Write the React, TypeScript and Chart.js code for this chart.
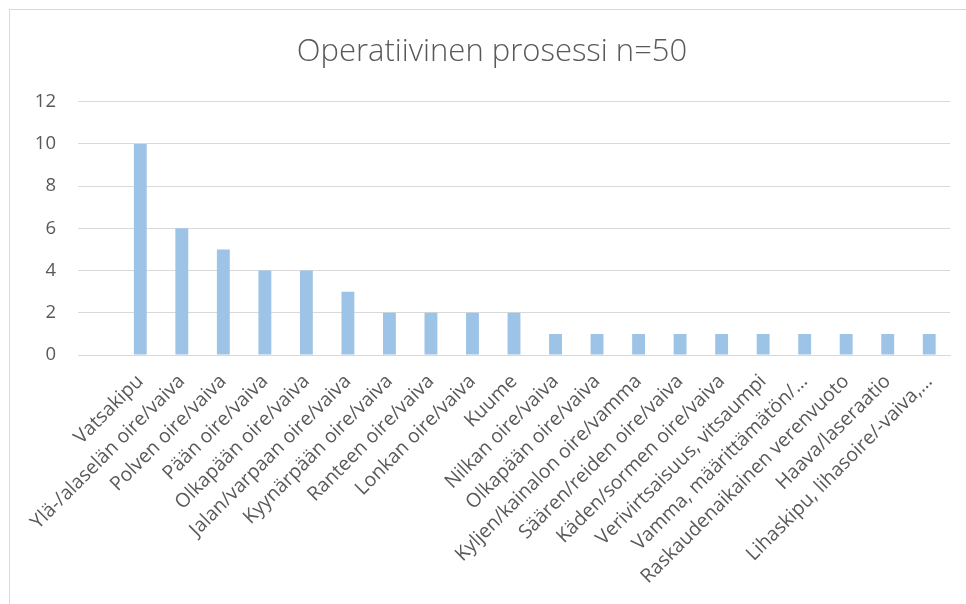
import React, { useEffect, useRef } from "react";
import { Chart, registerables } from "chart.js";

Chart.register(...registerables);

const TITLE = "Operatiivinen prosessi n=50";

const categories: string[] = [
  "",
  "Vatsakipu",
  "Ylä-/alaselän oire/vaiva",
  "Polven oire/vaiva",
  "Pään oire/vaiva",
  "Olkapään oire/vaiva",
  "Jalan/varpaan oire/vaiva",
  "Kyynärpään oire/vaiva",
  "Ranteen oire/vaiva",
  "Lonkan oire/vaiva",
  "Kuume",
  "Nilkan oire/vaiva",
  "Olkapään oire/vaiva",
  "Kyljen/kainalon oire/vamma",
  "Säären/reiden oire/vaiva",
  "Käden/sormen oire/vaiva",
  "Verivirtsaisuus, vitsaumpi",
  "Vamma, määrittämätön/…",
  "Raskaudenaikainen verenvuoto",
  "Haava/laseraatio",
  "Lihaskipu, lihasoire/-vaiva,…",
];

const counts: (number | null)[] = [
  null, 10, 6, 5, 4, 4, 3, 2, 2, 2, 2, 1, 1, 1, 1, 1, 1, 1, 1, 1, 1,
];

const yTicks: number[] = [0, 2, 4, 6, 8, 10, 12];

const FONT = "'Open Sans', 'DejaVu Sans', sans-serif";
const TEXT = "#595959";
const GRID = "#d9d9d9";

export default function App() {
  const ref = useRef<HTMLCanvasElement | null>(null);

  useEffect(() => {
    document.body.style.overflow = "hidden";
    const canvas = ref.current;
    if (!canvas) return;
    const chart = new Chart(canvas, {
      type: "bar",
      data: {
        labels: categories,
        datasets: [
          {
            data: counts,
            backgroundColor: "#9dc3e6",
            borderWidth: 0,
            barPercentage: 0.31,
            categoryPercentage: 1,
          },
        ],
      },
      options: {
        responsive: false,
        animation: false,
        maintainAspectRatio: false,
        layout: { padding: { left: 34, right: 16, top: 0, bottom: 0 } },
        plugins: {
          legend: { display: false },
          tooltip: { enabled: false },
          title: {
            display: true,
            text: TITLE,
            color: TEXT,
            font: { family: FONT, size: 31, weight: 300 as any, lineHeight: 1.2 },
            padding: { top: 34, bottom: 30.5 },
          },
        },
        scales: {
          x: {
            grid: { display: false, drawTicks: false },
            border: { display: true, color: GRID, width: 1 },
            ticks: {
              color: TEXT,
              font: { family: FONT, size: 19.5 },
              maxRotation: 45,
              minRotation: 45,
              autoSkip: false,
              padding: 15,
            },
            afterFit: (scale: any) => {
              scale.height = 249;
            },
          },
          y: {
            min: 0,
            max: 12,
            afterBuildTicks: (scale: any) => {
              scale.ticks = yTicks.map((v) => ({ value: v }));
            },
            grid: { color: GRID, drawTicks: false, lineWidth: 1 },
            border: { display: false },
            ticks: {
              color: TEXT,
              font: { family: FONT, size: 18.5 },
              padding: 22,
            },
            afterFit: (scale: any) => {
              scale.width = 44;
            },
          },
        },
      },
    });
    return () => chart.destroy();
  }, []);

  return (
    <div style={{ position: "fixed", left: 0, top: 0, width: 966, height: 604, background: "#fff" }}>
      <div
        style={{
          position: "absolute",
          left: 9,
          top: 9,
          width: 1000,
          height: 1000,
          border: "1px solid #d9d9d9",
          boxSizing: "border-box",
        }}
      />
      <canvas
        ref={ref}
        width={966}
        height={604}
        style={{ position: "absolute", left: 0, top: 0, width: 966, height: 604 }}
      />
    </div>
  );
}
